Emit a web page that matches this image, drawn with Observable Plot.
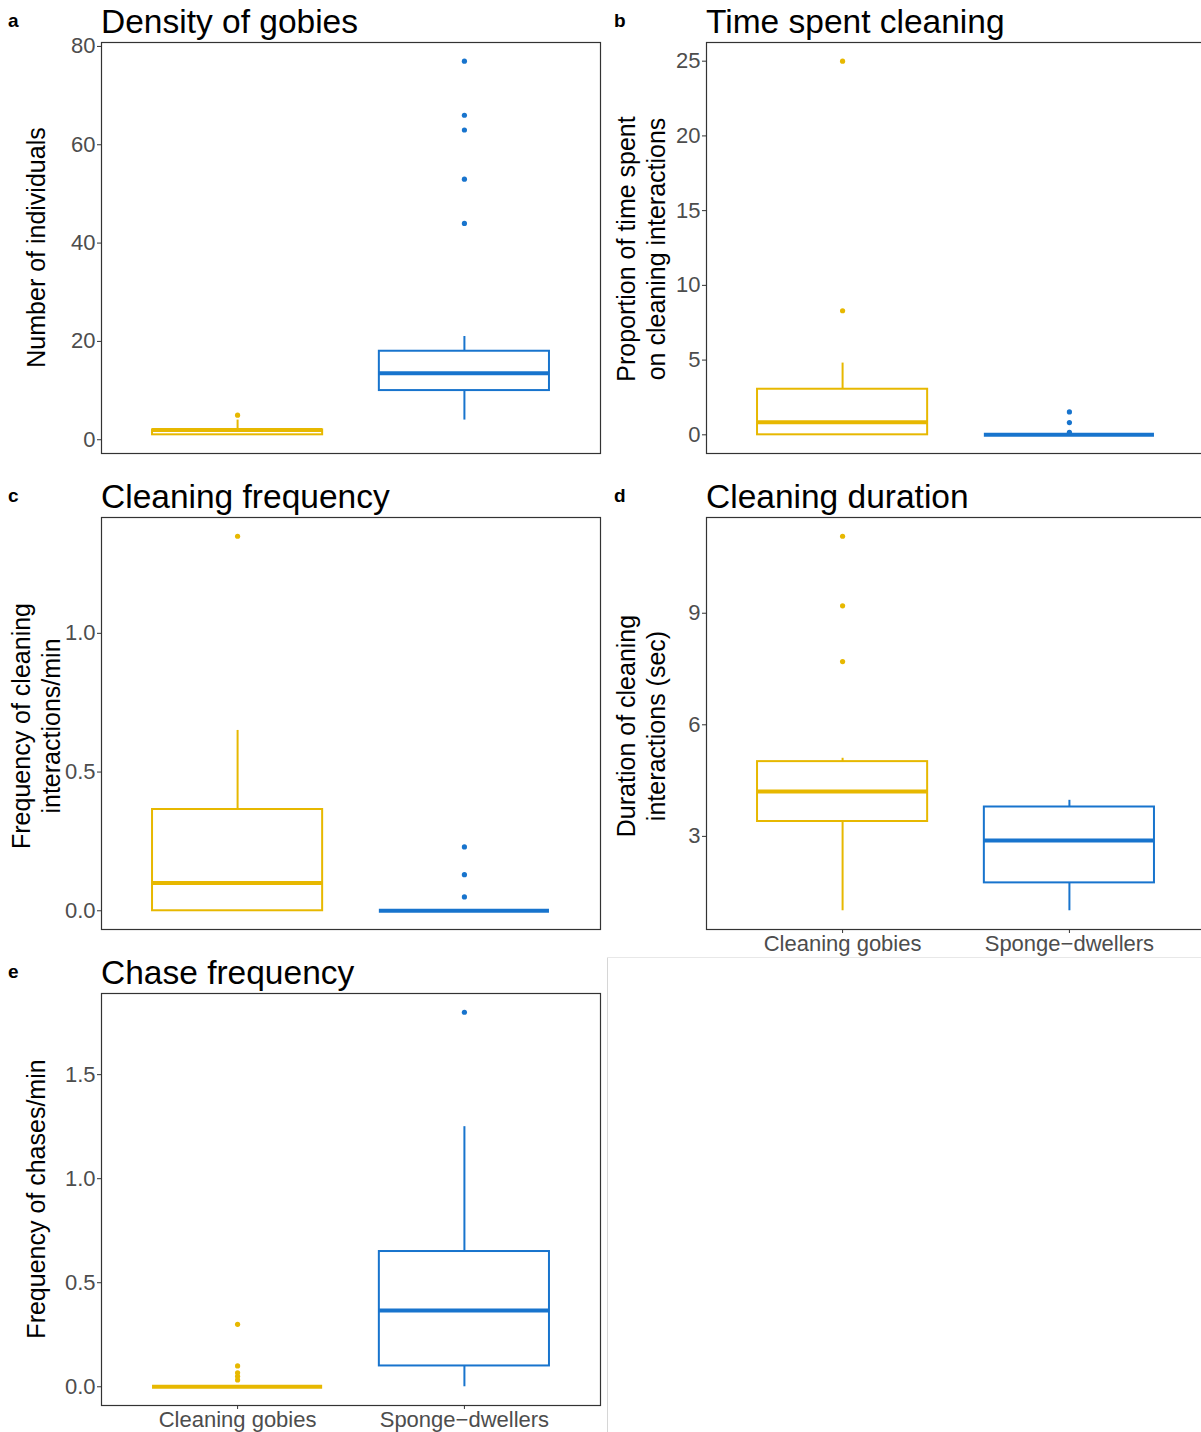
<!DOCTYPE html>
<html>
<head>
<meta charset="utf-8">
<script src="https://cdn.jsdelivr.net/npm/d3@7"></script>
<script src="https://cdn.jsdelivr.net/npm/@observablehq/plot@0.6"></script>
<style>
  html, body { margin: 0; padding: 0; background: #fff; overflow: hidden; }
  #page { position: relative; width: 1201px; height: 1432px; overflow: hidden; background: #fff; }
  #page > svg { position: absolute; }
  .sep { position: absolute; }
</style>
</head>
<body>
<div id="page"></div>
<script>
// ---- data ----------------------------------------------------------------
const groups = ["Cleaning gobies", "Sponge−dwellers"];
const groupColors = ["#E7B800", "#1874CD"];

// Box summaries per group: [lower whisker, Q1, median, Q3, upper whisker]
const densityBoxes = [[1, 1, 2, 2, 4], [4, 10, 13.5, 18, 21]];
const densityOutliers = [[5], [44, 53, 63, 66, 77]];
const densityTicks = [0, 20, 40, 60, 80];

const cleaningTimeBoxes = [[0, 0, 0.84, 3.05, 4.8], [0, 0, 0, 0, 0]];
const cleaningTimeOutliers = [[8.3, 25], [0.17, 0.82, 1.53]];
const cleaningTimeTicks = [0, 5, 10, 15, 20, 25];

const cleaningFreqBoxes = [[0, 0, 0.1, 0.365, 0.65], [0, 0, 0, 0, 0]];
const cleaningFreqOutliers = [[1.35], [0.05, 0.13, 0.23]];
const cleaningFreqTicks = [0, 0.5, 1.0];

const cleaningDurBoxes = [[1.0, 3.4, 4.21, 5.01, 5.1], [1.0, 1.75, 2.89, 3.79, 3.97]];
const cleaningDurOutliers = [[7.7, 9.2, 11.07], []];
const cleaningDurTicks = [3, 6, 9];

const chaseBoxes = [[0, 0, 0, 0, 0], [0, 0.1, 0.367, 0.65, 1.25]];
const chaseOutliers = [[0.033, 0.05, 0.067, 0.1, 0.3], [1.8]];
const chaseTicks = [0, 0.5, 1.0, 1.5];

const panelLetters = ["a", "b", "c", "d", "e"];
const panelTitles = ["Density of gobies", "Time spent cleaning", "Cleaning frequency", "Cleaning duration", "Chase frequency"];
const yTitles = [
  ["Number of individuals"],
  ["Proportion of time spent", "on cleaning interactions"],
  ["Frequency of cleaning", "interactions/min"],
  ["Duration of cleaning", "interactions (sec)"],
  ["Frequency of chases/min"]
];

// ---- layout --------------------------------------------------------------
const FONT = "'Liberation Sans', Arial, Helvetica, sans-serif";
const panels = [
  {boxes: densityBoxes, outliers: densityOutliers, ticks: densityTicks, fmt: d3.format("d"), left: 0, top: 0, w: 610, h: 470, fx: [101, 600], fy: [42, 453], xAxis: false},
  {boxes: cleaningTimeBoxes, outliers: cleaningTimeOutliers, ticks: cleaningTimeTicks, fmt: d3.format("d"), left: 605, top: 0, w: 610, h: 470, fx: [706, 1205], fy: [42, 453], xAxis: false},
  {boxes: cleaningFreqBoxes, outliers: cleaningFreqOutliers, ticks: cleaningFreqTicks, fmt: d3.format(".1f"), left: 0, top: 475, w: 610, h: 475, fx: [101, 600], fy: [517, 929], xAxis: false},
  {boxes: cleaningDurBoxes, outliers: cleaningDurOutliers, ticks: cleaningDurTicks, fmt: d3.format("d"), left: 605, top: 475, w: 610, h: 490, fx: [706, 1205], fy: [517, 929], xAxis: true},
  {boxes: chaseBoxes, outliers: chaseOutliers, ticks: chaseTicks, fmt: d3.format(".1f"), left: 0, top: 950, w: 610, h: 482, fx: [101, 600], fy: [993, 1405], xAxis: true}
];

const page = document.getElementById("page");

function boxPanel(p) {
  const rows = p.boxes.map((b, i) => ({pos: i + 1, lo: b[0], q1: b[1], med: b[2], q3: b[3], hi: b[4], color: groupColors[i]}));
  const pts = p.outliers.flatMap((vals, i) => vals.map(v => ({pos: i + 1, value: v, color: groupColors[i]})));
  const all = [...p.boxes.flat(), ...p.outliers.flat()];
  const lo = d3.min(all), hi = d3.max(all), pad = (hi - lo) * 0.05;
  const half = 0.375;
  const marks = [
    Plot.dot(pts, {x: "pos", y: "value", r: 2.6, fill: "color", stroke: null}),
    Plot.ruleX(rows, {x: "pos", y1: "q3", y2: "hi", stroke: "color", strokeWidth: 2}),
    Plot.ruleX(rows, {x: "pos", y1: "lo", y2: "q1", stroke: "color", strokeWidth: 2}),
    Plot.rect(rows, {x1: d => d.pos - half, x2: d => d.pos + half, y1: "q1", y2: "q3", fill: "white", stroke: "color", strokeWidth: 2}),
    Plot.ruleY(rows, {y: "med", x1: d => d.pos - half, x2: d => d.pos + half, stroke: "color", strokeWidth: 4}),
    Plot.axisY({ticks: p.ticks, tickFormat: p.fmt, tickSize: 4, tickPadding: 2, stroke: "#333333", fill: "#4d4d4d", label: null}),
    Plot.frame({stroke: "#333333", strokeWidth: 1.2})
  ];
  if (p.xAxis) {
    marks.push(Plot.axisX({ticks: [1, 2], tickFormat: i => groups[i - 1], tickSize: 4, tickPadding: 2, stroke: "#333333", fill: "#4d4d4d", label: null}));
  }
  const svg = Plot.plot({
    width: p.w,
    height: p.h,
    marginLeft: p.fx[0] - p.left,
    marginRight: p.left + p.w - p.fx[1],
    marginTop: p.fy[0] - p.top,
    marginBottom: p.top + p.h - p.fy[1],
    style: {background: "transparent", fontFamily: FONT, fontSize: "22px", overflow: "visible", maxWidth: "none"},
    color: {type: "identity"},
    x: {domain: [0.4, 2.6], axis: p.xAxis ? undefined : null},
    y: {domain: [lo - pad, hi + pad]},
    marks
  });
  svg.style.left = p.left + "px";
  svg.style.top = p.top + "px";
  page.appendChild(svg);
}

panels.forEach(boxPanel);

// Light border of the empty bottom-right cell
const vLine = document.createElement("div");
vLine.className = "sep";
Object.assign(vLine.style, {left: "607px", top: "957px", width: "1px", height: "475px", background: "#d6d6d6"});
page.appendChild(vLine);
const hLine = document.createElement("div");
hLine.className = "sep";
Object.assign(hLine.style, {left: "607px", top: "957px", width: "594px", height: "1px", background: "#e8e8e8"});
page.appendChild(hLine);

// ---- titles, panel letters and y-axis titles ------------------------------
const overlay = d3.select(page).append("svg")
  .attr("width", 1201).attr("height", 1432)
  .style("left", 0).style("top", 0).style("pointer-events", "none")
  .attr("font-family", FONT);

const titlePos = [[101, 33], [706, 33], [101, 508], [706, 508], [101, 984]];
const letterPos = [[8, 27], [614, 27], [8, 502], [614, 502], [8, 978]];
const yTitlePos = [
  {xs: [45], cy: 247.5},
  {xs: [635, 665], cy: 249},
  {xs: [30, 60], cy: 726},
  {xs: [635, 665], cy: 726},
  {xs: [45], cy: 1199}
];

panelTitles.forEach((t, i) => {
  overlay.append("text").attr("x", titlePos[i][0]).attr("y", titlePos[i][1])
    .attr("font-size", 33.5).attr("fill", "#000").text(t);
  overlay.append("text").attr("x", letterPos[i][0]).attr("y", letterPos[i][1])
    .attr("font-size", 19).attr("font-weight", "bold").attr("fill", "#000").text(panelLetters[i]);
  yTitles[i].forEach((line, j) => {
    overlay.append("text")
      .attr("transform", `translate(${yTitlePos[i].xs[j]},${yTitlePos[i].cy}) rotate(-90)`)
      .attr("text-anchor", "middle").attr("font-size", 25).attr("fill", "#000").text(line);
  });
});
</script>
</body>
</html>
